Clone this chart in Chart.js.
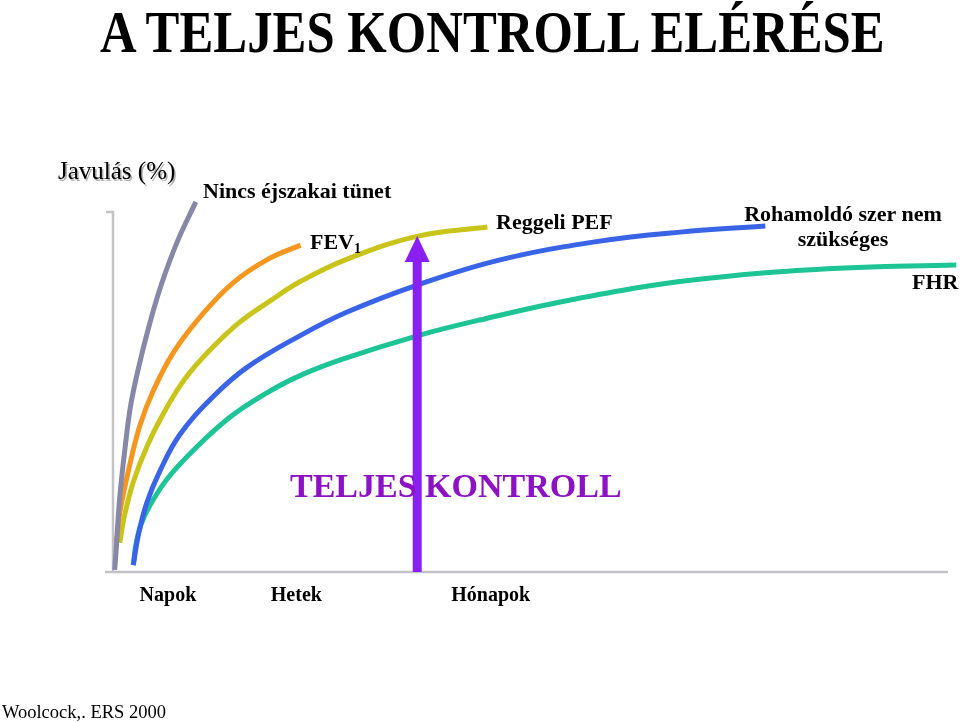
<!DOCTYPE html>
<html lang="hu">
<head>
<meta charset="utf-8">
<title>A teljes kontroll elérése</title>
<script src="https://cdn.jsdelivr.net/npm/chart.js@4/dist/chart.umd.min.js"></script>
<style>
  html, body { margin: 0; padding: 0; background: #fff; }
  #wrap { position: relative; width: 960px; height: 722px; overflow: hidden;
          font-family: "Liberation Serif", "Times New Roman", serif; }
  #wrap canvas { position: absolute; left: 0; top: 0; }
  .lbl { position: absolute; white-space: nowrap; line-height: 1; color: #000; font-weight: bold; font-size: 22px; }
  #title { left: 100px; top: 2px; font-size: 60px; transform-origin: left top; }
  #yTitle { left: 58px; top: 158px; font-size: 25px; font-weight: normal; text-shadow: 1.5px 1.5px 0 #b0b0b0; }
  #kontroll { left: 290px; top: 469px; font-size: 34px; color: #8c12c4; }
  #source { left: 2px; top: 703px; font-size: 18.5px; font-weight: normal; }
  sub { font-size: 14px; vertical-align: -4px; }
</style>
</head>
<body>
<div id="wrap">
  <canvas id="chart" width="960" height="722"></canvas>
  <div class="lbl" id="title">A TELJES KONTROLL ELÉRÉSE</div>
  <div class="lbl" id="yTitle">Javulás (%)</div>
  <div class="lbl" style="left:203px; top:180px;">Nincs éjszakai tünet</div>
  <div class="lbl" style="left:310px; top:231px;">FEV<sub>1</sub></div>
  <div class="lbl" style="left:496px; top:211px;">Reggeli PEF</div>
  <div class="lbl" style="left:743px; top:201px; width:200px; text-align:center; line-height:25px;">Rohamoldó szer nem<br>szükséges</div>
  <div class="lbl" style="left:912px; top:271px;">FHR</div>
  <div class="lbl" id="kontroll">TELJES KONTROLL</div>
  <div class="lbl" id="source">Woolcock,. ERS 2000</div>
</div>
<script>
// Javulás (%) az idő függvényében (x: 0..100 időegység, y: 0..100 %)
const nincsX   = [0.2, 0.4, 0.8, 1.4, 2.1, 3.1, 4.3, 5.7, 7.6, 9.8];
const nincsY   = [0.6, 6.9, 20.8, 33.9, 46.4, 57.5, 68.6, 79.7, 91.7, 102.8];
const fevX     = [0.4, 0.8, 1.9, 3.2, 4.7, 7.1, 10.3, 14.2, 18.2, 22.2];
const fevY     = [8.1, 16.4, 28.9, 40.8, 50.0, 60.8, 70.8, 80.3, 86.7, 90.8];
const pefX     = [0.8, 1.3, 2.4, 4.1, 6.2, 8.5, 11.5, 15.0, 18.6, 22.1, 27.7, 36.1, 44.3];
const pefY     = [8.1, 15.0, 25.0, 35.3, 45.0, 53.6, 61.7, 69.4, 75.3, 80.6, 86.9, 93.3, 95.8];
const rohamX   = [2.4, 3.0, 4.0, 5.6, 7.9, 11.8, 15.9, 22.1, 27.7, 36.0, 45.8, 57.6, 67.1, 77.2];
const rohamY   = [1.9, 10.3, 19.2, 28.3, 38.1, 48.6, 56.9, 65.6, 72.2, 79.7, 86.7, 91.9, 94.4, 96.1];
const fhrX     = [2.4, 2.7, 3.3, 4.4, 6.5, 9.9, 13.9, 17.8, 21.8, 26.9, 36.0, 43.4, 55.3, 68.6, 84.5, 99.8];
const fhrY     = [1.9, 7.5, 13.1, 18.6, 26.1, 34.7, 43.1, 49.2, 54.2, 58.9, 65.6, 70.0, 76.1, 81.1, 84.2, 85.3];

// időtengely feliratai
const timeTicks  = [6.5, 21.7, 44.7];
const timeLabels = ['Napok', 'Hetek', 'Hónapok'];

// teljes kontroll nyíl
const kontrollX = 36.0;
const kontrollTip = 93.3;

const colors = {
    nincs: '#8787a8',
    fev: '#f5961e',
    pef: '#c8c41a',
    roham: '#3a64e8',
    fhr: '#1cc496',
    axis: '#c2c2c8',
    arrow: '#8a1ff2'
};

function toPoints(xs, ys) {
    return xs.map((x, i) => ({ x: x, y: ys[i] }));
}

function curve(label, xs, ys, color) {
    return {
        label: label,
        data: toPoints(xs, ys),
        borderColor: color,
        borderWidth: 5,
        pointRadius: 0,
        tension: 0.4,
        clip: false,
        fill: false
    };
}

// tengelyvonalak és a nyíl
const decorPlugin = {
    id: 'decor',
    beforeDatasetsDraw(chart) {
        const { ctx, scales: { x, y } } = chart;
        const x0 = x.getPixelForValue(0);
        const yTop = y.getPixelForValue(100);
        const yBot = y.getPixelForValue(0);
        ctx.save();
        ctx.strokeStyle = colors.axis;
        ctx.lineWidth = 2.5;
        ctx.beginPath();
        ctx.moveTo(x0 - 7, yTop);
        ctx.lineTo(x0, yTop);
        ctx.lineTo(x0, yBot);
        ctx.moveTo(x0 - 8, yBot);
        ctx.lineTo(x.getPixelForValue(98.8), yBot);
        ctx.stroke();
        ctx.restore();
    },
    afterDatasetsDraw(chart) {
        const { ctx, scales: { x, y } } = chart;
        const ax = x.getPixelForValue(kontrollX);
        const tip = y.getPixelForValue(kontrollTip);
        const base = y.getPixelForValue(0);
        ctx.save();
        ctx.fillStyle = colors.arrow;
        ctx.fillRect(ax - 4.5, tip + 24, 9, base - tip - 24);
        ctx.beginPath();
        ctx.moveTo(ax, tip);
        ctx.lineTo(ax + 12.5, tip + 26);
        ctx.lineTo(ax - 12.5, tip + 26);
        ctx.closePath();
        ctx.fill();
        ctx.restore();
    }
};

new Chart(document.getElementById('chart'), {
    type: 'line',
    data: {
        datasets: [
            curve('Nincs éjszakai tünet', nincsX, nincsY, colors.nincs),
            curve('FEV1', fevX, fevY, colors.fev),
            curve('Reggeli PEF', pefX, pefY, colors.pef),
            curve('Rohamoldó szer nem szükséges', rohamX, rohamY, colors.roham),
            curve('FHR', fhrX, fhrY, colors.fhr)
        ]
    },
    options: {
        responsive: false,
        animation: false,
        layout: { padding: { left: 113, right: 2, top: 190, bottom: 102 } },
        plugins: {
            legend: { display: false },
            tooltip: { enabled: false }
        },
        scales: {
            x: {
                type: 'linear',
                min: 0,
                max: 100,
                afterBuildTicks: (scale) => {
                    scale.ticks = timeTicks.map(v => ({ value: v }));
                },
                grid: { display: false, drawTicks: false },
                border: { display: false },
                ticks: {
                    autoSkip: false,
                    maxRotation: 0,
                    padding: 12,
                    color: '#000',
                    font: { family: 'Liberation Serif', size: 20, weight: 'bold' },
                    callback: (value, index) => timeLabels[index]
                }
            },
            y: {
                type: 'linear',
                display: false,
                min: 0,
                max: 106.1
            }
        }
    },
    plugins: [decorPlugin]
});

// a cím keskenyített szedése
const title = document.getElementById('title');
title.style.transform = 'scaleX(' + (785 / title.offsetWidth) + ')';
</script>
</body>
</html>
